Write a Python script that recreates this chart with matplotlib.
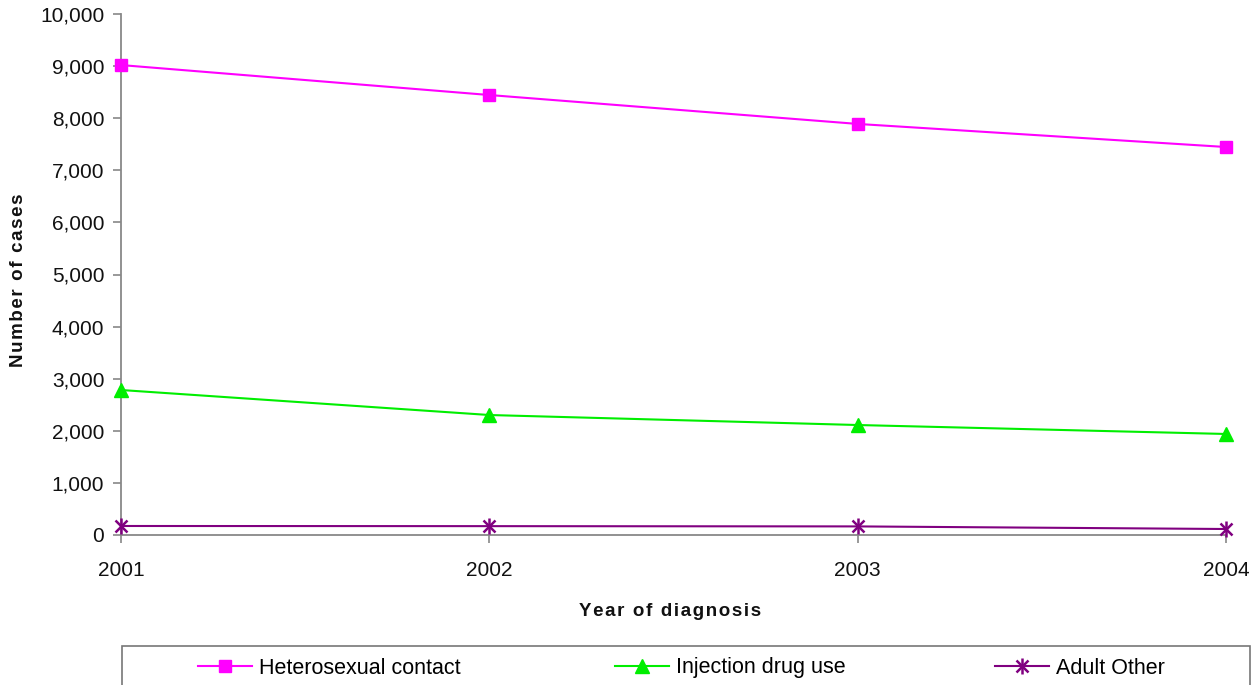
import matplotlib
matplotlib.use("Agg")
import matplotlib.pyplot as plt
from matplotlib.ticker import FuncFormatter
from matplotlib.patches import Rectangle
from matplotlib.legend_handler import HandlerTuple

years = [2001, 2002, 2003, 2004]
hetero = [9020, 8445, 7890, 7447]
idu = [2783, 2303, 2111, 1939]
other = [173, 170, 165, 115]
labels = ["Heterosexual contact", "Injection drug use", "Adult Other"]
xlabel = "Year of diagnosis"
ylabel = "Number of cases"

plt.rcParams['font.family'] = ['Liberation Sans', 'DejaVu Sans']

def spaced(s):
    return "\u200a".join(s)

fig = plt.figure(figsize=(12.59, 6.85), dpi=100)
ax = fig.add_axes([121/1259, 1-535/685, (1226-121)/1259, (535-14)/685])

h1, = ax.plot(years, hetero, color='#ff00ff', marker='s', markersize=8, lw=1.5, clip_on=False, zorder=3)
h2, = ax.plot(years, idu, color='#00ee00', marker='^', markersize=10, lw=1.5, clip_on=False, zorder=3)
h3, = ax.plot(years, other, color='#800080', marker='x', markersize=9, mew=1.8, lw=1.5, clip_on=False, zorder=3)
h3b, = ax.plot(years, other, color='#800080', marker='|', markersize=11, mew=1.8, lw=0, clip_on=False, zorder=3)

ax.set_xlim(2001, 2004)
ax.set_ylim(0, 10000)
ax.set_xticks(years)
ax.set_yticks(range(0, 10001, 1000))
ax.yaxis.set_major_formatter(FuncFormatter(lambda v, p: f"{int(v):,}"))
for s in ['top', 'right']:
    ax.spines[s].set_visible(False)
for s in ['left', 'bottom']:
    ax.spines[s].set_color('#888888')
    ax.spines[s].set_linewidth(1.3)
ax.tick_params(axis='both', colors='#888888', labelcolor='#111111', labelsize=15, length=6, width=1.2)
ax.tick_params(axis='y', pad=6)
ax.tick_params(axis='x', pad=13)

fig.text(19/1259, 1-280/685, spaced(ylabel), rotation=90, ha='center', va='center',
         fontsize=13.5, fontweight='bold', color='#111111')
fig.text(670/1259, 1-611/685, spaced(xlabel), ha='center', va='center',
         fontsize=13.5, fontweight='bold', color='#111111')

# legend frame
fig.patches.append(Rectangle((122/1259, -0.1), (1250-122)/1259, 0.1 + 1 - 646/685,
                             transform=fig.transFigure, fill=False, edgecolor='#777777', lw=1.2))

ycen = 1 - 668/685
entries = [((h1,), labels[0], 198), ((h2,), labels[1], 615), ((h3, h3b), labels[2], 995)]
for hs, lab, xpx in entries:
    fig.legend([hs], [lab], loc='center left', bbox_to_anchor=(xpx/1259, ycen),
               frameon=False, borderaxespad=0, borderpad=0, handlelength=2.5,
               handletextpad=0.35, handler_map={tuple: HandlerTuple(ndivide=1, pad=0)},
               prop={'size': 15.5})

fig.savefig("out.png", dpi=100)
